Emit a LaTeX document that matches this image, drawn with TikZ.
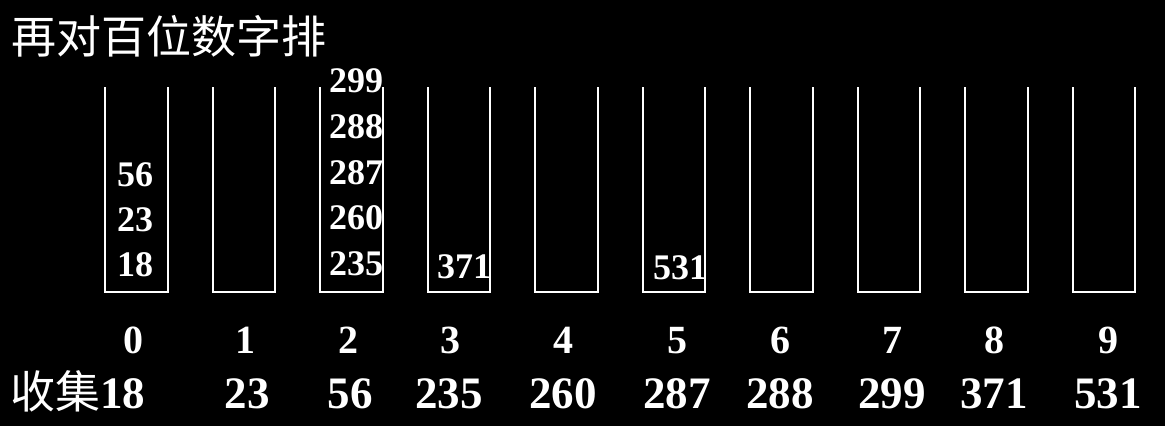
\documentclass[tikz,border=0pt]{standalone}
\usepackage{fontspec}
\setmainfont{Liberation Serif}
\newfontfamily\cjk{Noto Sans CJK SC}
\usetikzlibrary{positioning}

\tikzset{
  bucket/.style={draw=white, line width=2pt},
  num/.style={text=white, inner sep=0pt, anchor=base, font=\fontsize{36}{36}\selectfont\bfseries},
  idx/.style={text=white, inner sep=0pt, anchor=base, font=\fontsize{40}{40}\selectfont\bfseries},
  res/.style={text=white, inner sep=0pt, anchor=base, font=\fontsize{45}{45}\selectfont\bfseries},
  titel/.style={text=white, inner sep=0pt, font=\fontsize{45}{45}\selectfont\cjk}
}

\begin{document}
\begin{tikzpicture}[x=1pt, y=1pt]

% Hintergrund
\fill[black] (0,0) rectangle (1165,426);
\useasboundingbox (0,0) rectangle (1165,426);

% Ueberschrift
\node[titel, anchor=west] (titel) at (11,389.5) {再对百位数字排};

% Eimer 0 bis 9
\draw[bucket] (105,338.7) -- (105,134.3) -- (167.5,134.3) -- (167.5,338.7);
\draw[bucket] (212.5,338.7) -- (212.5,134.3) -- (275,134.3) -- (275,338.7);
\draw[bucket] (320,338.7) -- (320,134.3) -- (382.5,134.3) -- (382.5,338.7);
\draw[bucket] (427.5,338.7) -- (427.5,134.3) -- (490,134.3) -- (490,338.7);
\draw[bucket] (535,338.7) -- (535,134.3) -- (597.5,134.3) -- (597.5,338.7);
\draw[bucket] (642.5,338.7) -- (642.5,134.3) -- (705,134.3) -- (705,338.7);
\draw[bucket] (750,338.7) -- (750,134.3) -- (812.5,134.3) -- (812.5,338.7);
\draw[bucket] (857.5,338.7) -- (857.5,134.3) -- (920,134.3) -- (920,338.7);
\draw[bucket] (965,338.7) -- (965,134.3) -- (1027.5,134.3) -- (1027.5,338.7);
\draw[bucket] (1072.5,338.7) -- (1072.5,134.3) -- (1135,134.3) -- (1135,338.7);

% Inhalt Eimer 0
\node[num] (e0a) at (135,149) {18};
\node[num] (e0b) at (135,194) {23};
\node[num] (e0c) at (135,239) {56};

% Inhalt Eimer 2
\node[num] (e2a) at (356,150) {235};
\node[num] (e2b) at (356,196) {260};
\node[num] (e2c) at (356,241) {287};
\node[num] (e2d) at (356,287) {288};
\node[num] (e2e) at (356,333) {299};

% Inhalt Eimer 3 und 5
\node[num] (e3a) at (464,147) {371};
\node[num] (e5a) at (680,146) {531};

% Eimernummern
\node[idx] (i0) at (133,73) {0};
\node[idx] (i1) at (245,73) {1};
\node[idx] (i2) at (348,73) {2};
\node[idx] (i3) at (450,73) {3};
\node[idx] (i4) at (563,73) {4};
\node[idx] (i5) at (677,73) {5};
\node[idx] (i6) at (780,73) {6};
\node[idx] (i7) at (892,73) {7};
\node[idx] (i8) at (994,73) {8};
\node[idx] (i9) at (1108,73) {9};

% Sammeln
\node[res, anchor=base west] (r0) at (10,18) {{\cjk\mdseries 收集}18};
\node[res] (r1) at (247,18) {23};
\node[res] (r2) at (350,18) {56};
\node[res] (r3) at (449,18) {235};
\node[res] (r4) at (563,18) {260};
\node[res] (r5) at (677,18) {287};
\node[res] (r6) at (780,18) {288};
\node[res] (r7) at (892,18) {299};
\node[res] (r8) at (994,18) {371};
\node[res] (r9) at (1108,18) {531};

\end{tikzpicture}
\end{document}
